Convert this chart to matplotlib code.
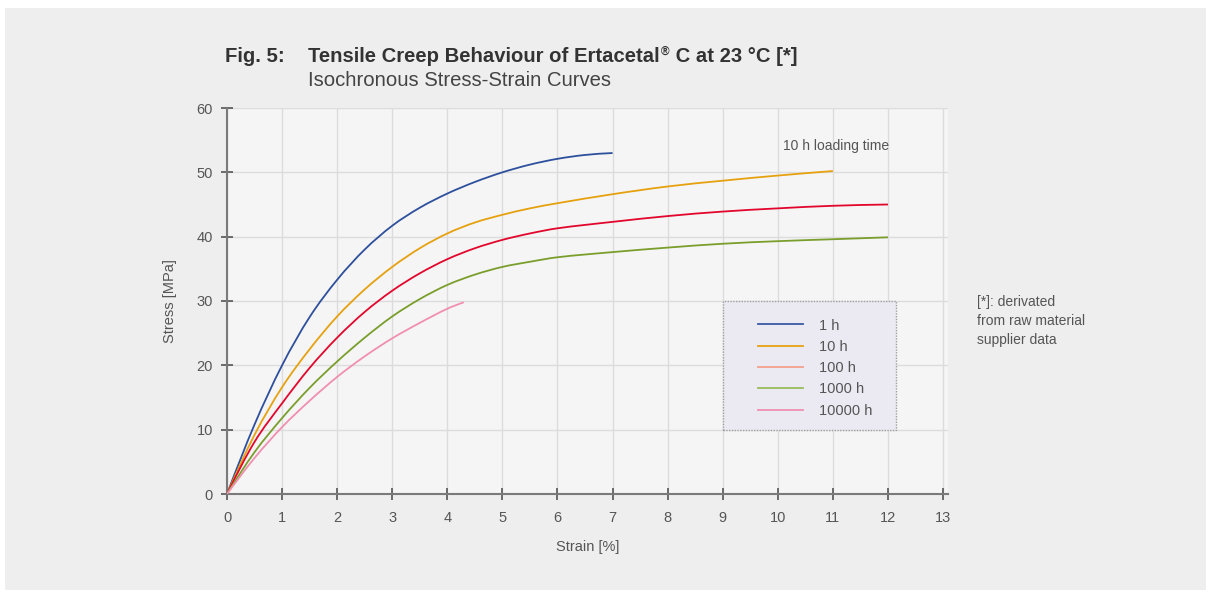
import matplotlib
matplotlib.use("Agg")
import matplotlib.pyplot as plt
from matplotlib.patches import Rectangle, PathPatch
from matplotlib.path import Path
from matplotlib.lines import Line2D

plt.rcParams['font.family'] = ['Liberation Sans', 'DejaVu Sans']

# ---- data ----
labels = ["1 h", "10 h", "100 h", "1000 h", "10000 h"]

strain_1h = [0, 0.5, 1, 1.5, 2, 2.5, 3, 3.5, 4, 4.5, 5, 5.5, 6, 6.5, 7]
stress_1h = [0, 10.8, 20.0, 27.5, 33.3, 38.0, 41.7, 44.5, 46.7, 48.5, 50.0, 51.2, 52.1, 52.7, 53.0]

strain_10h = [0, 0.5, 1, 1.5, 2, 2.5, 3, 3.5, 4, 4.5, 5, 5.5, 6, 7, 8, 9, 10, 11]
stress_10h = [0, 9.2, 16.6, 22.5, 27.6, 31.8, 35.3, 38.2, 40.5, 42.2, 43.4, 44.4, 45.2, 46.6, 47.8, 48.7, 49.5, 50.2]

strain_100h = [0, 0.5, 1, 1.5, 2, 2.5, 3, 3.5, 4, 4.5, 5, 5.5, 6, 7, 8, 9, 10, 11, 12]
stress_100h = [0, 8.1, 14.1, 19.6, 24.3, 28.3, 31.6, 34.3, 36.5, 38.2, 39.5, 40.5, 41.3, 42.3, 43.2, 43.9, 44.4, 44.8, 45.0]

strain_1000h = [0, 0.5, 1, 1.5, 2, 2.5, 3, 3.5, 4, 4.5, 5, 5.5, 6, 7, 8, 9, 10, 11, 12]
stress_1000h = [0, 6.5, 11.8, 16.5, 20.6, 24.3, 27.6, 30.3, 32.5, 34.1, 35.3, 36.1, 36.8, 37.6, 38.3, 38.9, 39.3, 39.6, 39.9]

strain_10000h = [0, 0.5, 1, 1.5, 2, 2.5, 3, 3.5, 4, 4.3]
stress_10000h = [0, 5.6, 10.4, 14.5, 18.2, 21.4, 24.2, 26.6, 28.8, 29.8]

x_ticks = list(range(0, 14))
y_ticks = list(range(0, 70, 10))

colors = ["#2d4f9c", "#e6a10f", "#e2062c", "#7a9e2c", "#f08fb0"]
legend_colors = ["#3a5aa3", "#e6a10f", "#f3a08e", "#98bd5a", "#f08fb0"]


def smooth_path(xs, ys):
    """Cubic Hermite (Bezier) path running through every data point."""
    n = len(xs)
    m = [0.0] * n
    for i in range(1, n - 1):
        m[i] = (ys[i + 1] - ys[i - 1]) / (xs[i + 1] - xs[i - 1])
    s0 = (ys[1] - ys[0]) / (xs[1] - xs[0])
    m[0] = (3 * s0 - m[1]) / 2 if n > 2 else s0
    sn = (ys[-1] - ys[-2]) / (xs[-1] - xs[-2])
    m[-1] = (3 * sn - m[-2]) / 2 if n > 2 else sn
    verts = [(xs[0], ys[0])]
    codes = [Path.MOVETO]
    for i in range(n - 1):
        h = xs[i + 1] - xs[i]
        verts += [(xs[i] + h / 3, ys[i] + m[i] * h / 3),
                  (xs[i + 1] - h / 3, ys[i + 1] - m[i + 1] * h / 3),
                  (xs[i + 1], ys[i + 1])]
        codes += [Path.CURVE4] * 3
    return Path(verts, codes)


W, H = 1210, 592
fig = plt.figure(figsize=(W / 100, H / 100), dpi=100, facecolor="white")

# outer grey panel
fig.patches.append(Rectangle((5 / W, 1 - 590 / H), 1201 / W, 582 / H,
                             transform=fig.transFigure, facecolor="#eeeeee",
                             edgecolor="none", zorder=-5))

ax_l, ax_r, ax_t, ax_b = 227, 948, 108, 494
ax = fig.add_axes([ax_l / W, 1 - ax_b / H, (ax_r - ax_l) / W, (ax_b - ax_t) / H])
ax.set_zorder(2)
ax.set_facecolor("#f5f5f5")

series = [(strain_1h, stress_1h), (strain_10h, stress_10h), (strain_100h, stress_100h),
          (strain_1000h, stress_1000h), (strain_10000h, stress_10000h)]
for (xs, ys), c in zip(series, colors):
    ax.add_patch(PathPatch(smooth_path(xs, ys), facecolor="none", edgecolor=c,
                           lw=1.3, capstyle="butt", zorder=3))

ax.set_xlim(0, 13.09)
ax.set_ylim(0, 60)
ax.set_xticks(x_ticks)
ax.set_yticks(y_ticks)
ax.grid(True, color="#dcdcdc", lw=1)
ax.set_axisbelow(True)
for s in ["top", "right"]:
    ax.spines[s].set_visible(False)
for s in ["left", "bottom"]:
    ax.spines[s].set_color("#7a7a7a")
    ax.spines[s].set_linewidth(1.5)
ax.tick_params(direction="inout", length=8, width=1.2, color="#555555",
               labelcolor="#555555", labelsize=10.5)
ax.tick_params(axis="x", pad=8)
ax.tick_params(axis="y", pad=6)

ax.set_xlabel("Strain [%]", fontsize=10.5, color="#555555", labelpad=11)
ax.set_ylabel("Stress [MPa]", fontsize=10.5, color="#555555", labelpad=14)

# legend box
ax.add_patch(Rectangle((9.0, 10.0), 3.15, 20.0, facecolor="#ebe9f2", edgecolor="#a0a0a0",
                       lw=1.0, linestyle=(0, (1, 1)), zorder=2))
handles = [Line2D([], [], color=c, lw=1.3) for c in legend_colors]
leg = ax.legend(handles, labels, loc="upper left", bbox_to_anchor=(9.5, 28.4),
                bbox_transform=ax.transData, frameon=False, fontsize=10.5,
                handlelength=3.1, handletextpad=1.1, labelspacing=0.5,
                borderpad=0, labelcolor="#555555")
leg.set_zorder(4)

ax.text(10.1, 54.1, "10 h loading time", fontsize=10, color="#555555",
        ha="left", va="center")

# titles
title_size = 14.6
fig.text(225 / W, 1 - 57 / H, "Fig. 5:", fontsize=title_size, fontweight="bold",
         color="#333333", ha="left", va="center")
t1 = fig.text(308 / W, 1 - 57 / H, "Tensile Creep Behaviour of Ertacetal",
              fontsize=title_size, fontweight="bold", color="#333333", ha="left", va="center")
fig.canvas.draw()
r = fig.canvas.get_renderer()
bb = t1.get_window_extent(r)
t2 = fig.text((bb.x1 + 1) / W, 1 - 52 / H, "®", fontsize=8.5, fontweight="bold",
              color="#333333", ha="left", va="center")
bb2 = t2.get_window_extent(r)
fig.text((bb2.x1 + 1) / W, 1 - 57 / H, " C at 23 °C [*]", fontsize=title_size,
         fontweight="bold", color="#333333", ha="left", va="center")
fig.text(308 / W, 1 - 80 / H, "Isochronous Stress-Strain Curves", fontsize=14.6,
         color="#444444", ha="left", va="center")

fig.text(977 / W, 1 - 321 / H, "[*]: derivated\nfrom raw material\nsupplier data",
         fontsize=10, color="#555555", ha="left", va="center", linespacing=1.45)

fig.savefig("out.png", dpi=100, facecolor="white")
